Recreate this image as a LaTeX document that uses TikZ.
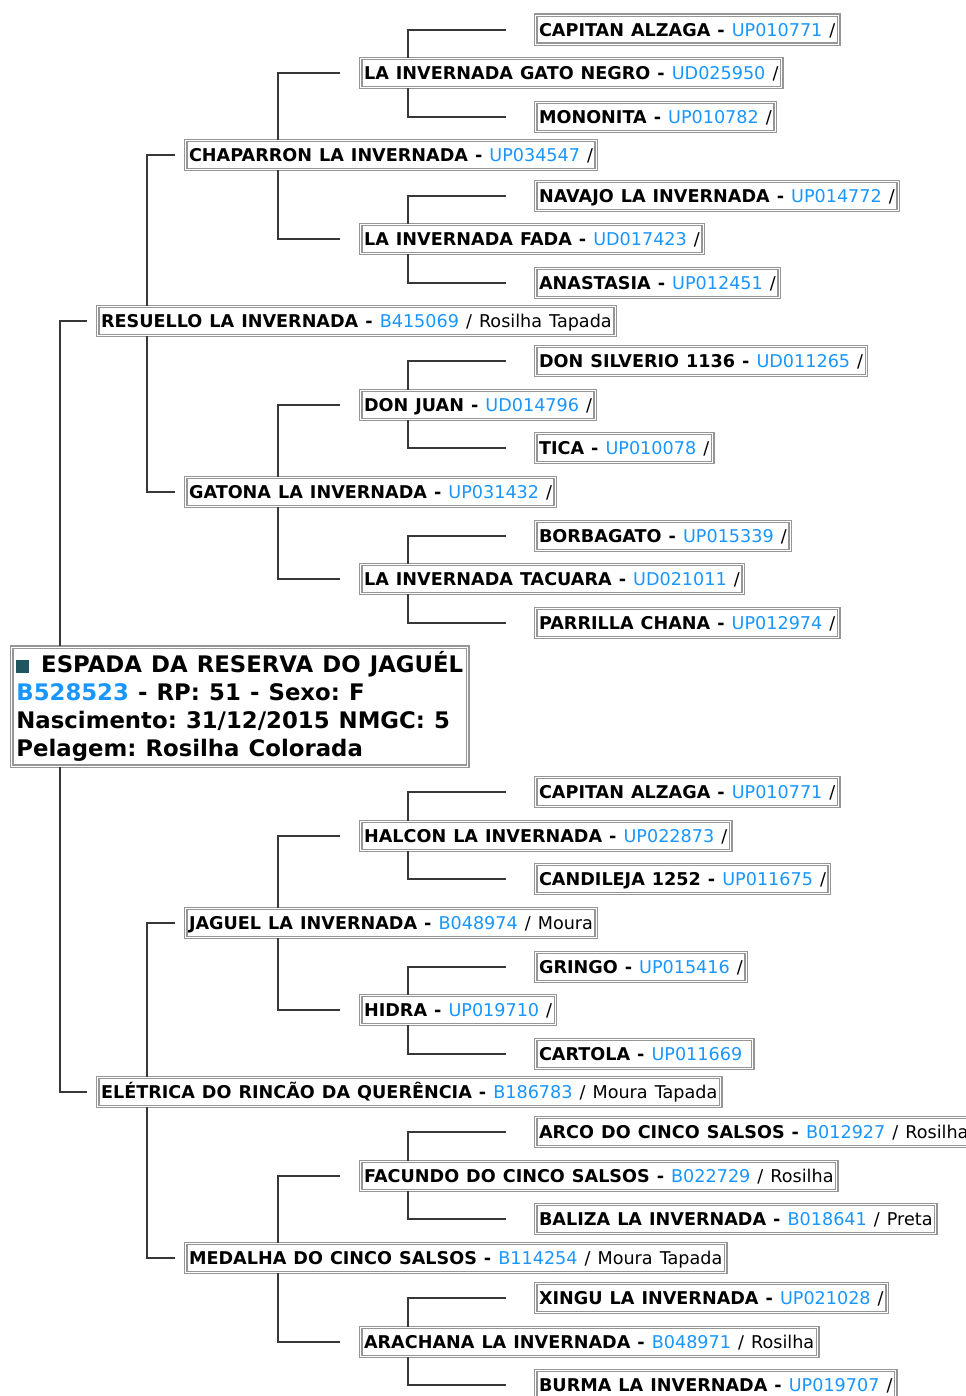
\documentclass[tikz,border=0pt]{standalone}
\usepackage{fontspec}
\setmainfont{DejaVu Sans}
\usepackage{xcolor}
\frenchspacing

\definecolor{idblue}{RGB}{25,150,255}
\definecolor{boxgray}{RGB}{150,150,150}
\definecolor{linegray}{RGB}{55,55,55}
\definecolor{marker}{RGB}{30,85,95}
\newcommand{\widesp}{\spaceskip=0.40em\relax}
\newcommand{\horse}[3]{\textbf{#1 -} \textcolor{idblue}{#2} #3\hspace{2pt}}

\begin{document}
\begin{tikzpicture}[x=0.75pt,y=-0.75pt,
  anc/.style={draw=boxgray,double=white,double distance=0.75pt,line width=1.1pt,
    fill=white,anchor=west,inner xsep=2.5pt,inner ysep=0pt,minimum height=21.75pt,
    text height=11pt,text depth=1.2pt,
    font=\fontsize{13.2pt}{16pt}\selectfont\widesp},
  link/.style={draw=linegray,line width=1.5pt}]
  \useasboundingbox (0,0) rectangle (966,1396);

  \node[anc,align=left,inner xsep=3.5pt,minimum height=89.25pt,text height=,text depth=,
    font=\fontsize{17.1pt}{21pt}\selectfont\bfseries\widesp] (sub) at (11,706.5)
    {\textcolor{marker}{\rule{9.75pt}{9.75pt}}\hspace{2pt} ESPADA DA RESERVA DO JAGUÉL\\
     \textcolor{idblue}{B528523} - RP: 51 - Sexo: F\\
     Nascimento: 31/12/2015 NMGC: 5\\
     Pelagem: Rosilha Colorada};

  \node[anc] (res) at (97,321) {\horse{RESUELLO LA INVERNADA}{B415069}{/ Rosilha Tapada}};
  \node[anc] (ele) at (97,1092) {\horse{ELÉTRICA DO RINCÃO DA QUERÊNCIA}{B186783}{/ Moura Tapada}};

  \node[anc] (cha) at (185,155) {\horse{CHAPARRON LA INVERNADA}{UP034547}{/}};
  \node[anc] (gat) at (185,492) {\horse{GATONA LA INVERNADA}{UP031432}{/}};
  \node[anc] (jag) at (185,923) {\horse{JAGUEL LA INVERNADA}{B048974}{/ Moura}};
  \node[anc] (med) at (185,1258) {\horse{MEDALHA DO CINCO SALSOS}{B114254}{/ Moura Tapada}};

  \node[anc] (gn) at (360,73) {\horse{LA INVERNADA GATO NEGRO}{UD025950}{/}};
  \node[anc] (fad) at (360,239) {\horse{LA INVERNADA FADA}{UD017423}{/}};
  \node[anc] (dj) at (360,405) {\horse{DON JUAN}{UD014796}{/}};
  \node[anc] (tac) at (360,579) {\horse{LA INVERNADA TACUARA}{UD021011}{/}};
  \node[anc] (hal) at (360,836) {\horse{HALCON LA INVERNADA}{UP022873}{/}};
  \node[anc] (hid) at (360,1010) {\horse{HIDRA}{UP019710}{/}};
  \node[anc] (fac) at (360,1176) {\horse{FACUNDO DO CINCO SALSOS}{B022729}{/ Rosilha}};
  \node[anc] (ara) at (360,1342) {\horse{ARACHANA LA INVERNADA}{B048971}{/ Rosilha}};

  \node[anc] (ca1) at (535,29.5) {\horse{CAPITAN ALZAGA}{UP010771}{/}};
  \node[anc] (mon) at (535,117) {\horse{MONONITA}{UP010782}{/}};
  \node[anc] (nav) at (535,196) {\horse{NAVAJO LA INVERNADA}{UP014772}{/}};
  \node[anc] (anas) at (535,283) {\horse{ANASTASIA}{UP012451}{/}};
  \node[anc] (dsil) at (535,361) {\horse{DON SILVERIO 1136}{UD011265}{/}};
  \node[anc] (tica) at (535,448) {\horse{TICA}{UP010078}{/}};
  \node[anc] (borb) at (535,536) {\horse{BORBAGATO}{UP015339}{/}};
  \node[anc] (parr) at (535,623) {\horse{PARRILLA CHANA}{UP012974}{/}};
  \node[anc] (ca2) at (535,792) {\horse{CAPITAN ALZAGA}{UP010771}{/}};
  \node[anc] (cand) at (535,879) {\horse{CANDILEJA 1252}{UP011675}{/}};
  \node[anc] (grin) at (535,967) {\horse{GRINGO}{UP015416}{/}};
  \node[anc] (cart) at (535,1054) {\horse{CARTOLA}{UP011669}{}};
  \node[anc] (arco) at (535,1132) {\horse{ARCO DO CINCO SALSOS}{B012927}{/ Rosilha}};
  \node[anc] (bal) at (535,1219) {\horse{BALIZA LA INVERNADA}{B018641}{/ Preta}};
  \node[anc] (xin) at (535,1298) {\horse{XINGU LA INVERNADA}{UP021028}{/}};
  \node[anc] (bur) at (535,1385) {\horse{BURMA LA INVERNADA}{UP019707}{/}};

  % parent / child / side / column / end
  \foreach \p/\c/\a/\x/\e in {sub/res/north/60/87, sub/ele/south/60/87,
      res/cha/north/147/175, res/gat/south/147/175, ele/jag/north/147/175, ele/med/south/147/175,
      cha/gn/north/278/340, cha/fad/south/278/340, gat/dj/north/278/340, gat/tac/south/278/340,
      jag/hal/north/278/340, jag/hid/south/278/340, med/fac/north/278/340, med/ara/south/278/340,
      gn/ca1/north/408/506, gn/mon/south/408/506, fad/nav/north/408/506, fad/anas/south/408/506,
      dj/dsil/north/408/506, dj/tica/south/408/506, tac/borb/north/408/506, tac/parr/south/408/506,
      hal/ca2/north/408/506, hal/cand/south/408/506, hid/grin/north/408/506, hid/cart/south/408/506,
      fac/arco/north/408/506, fac/bal/south/408/506, ara/xin/north/408/506, ara/bur/south/408/506}
    \draw[link] (\p.\a -| \x,0) |- (\e,0 |- \c);
\end{tikzpicture}
\end{document}
